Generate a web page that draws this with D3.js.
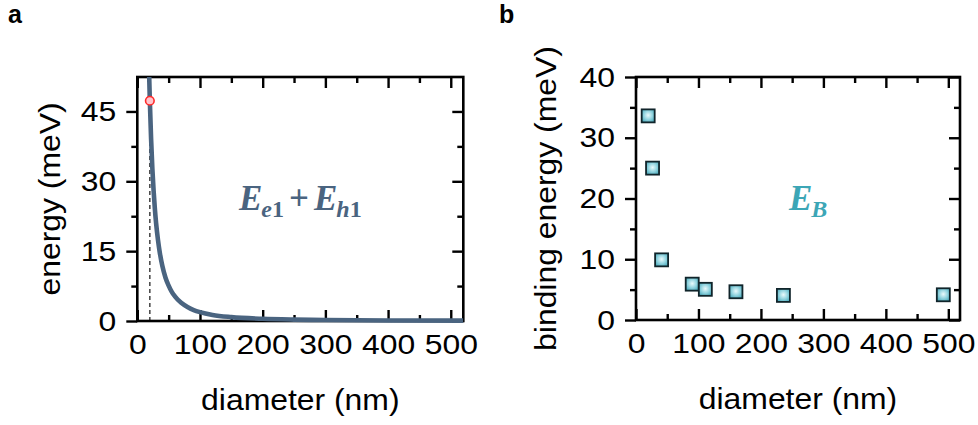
<!DOCTYPE html>
<html>
<head>
<meta charset="utf-8">
<script src="https://cdn.jsdelivr.net/npm/d3@7"></script>
<style>
  html, body { margin: 0; padding: 0; background: #fff; }
  svg { display: block; }
  .tick text { font-family: "Liberation Sans", Arial, sans-serif; font-size: 28.5px; fill: #000; }
</style>
</head>
<body>
<svg id="chart" width="978" height="425"></svg>
<script>
// Panel a: confinement energy E_e1 + E_h1 versus wire diameter
const curveDiameter = [18.9, 20, 22, 24, 26, 28, 30, 33, 36, 40, 45, 50, 55, 60, 70, 80, 90, 100, 120, 150, 200, 250, 300, 400, 520];
const curveEnergy   = [52.9, 47.3, 39.1, 32.8, 28.0, 24.1, 21.0, 17.4, 14.6, 11.8, 9.3, 7.6, 6.25, 5.3, 3.9, 3.0, 2.35, 1.9, 1.3, 0.84, 0.47, 0.30, 0.21, 0.12, 0.07];
const markDiameter = 20;
const markEnergy = 47.3;

// Panel b: exciton binding energy E_B versus wire diameter
const bindDiameter = [19.5, 26.5, 41, 90, 111, 160, 236, 492];
const bindEnergy   = [33.6, 25.0, 9.9, 5.9, 5.05, 4.65, 4.05, 4.15];

// Axis ticks
const xMajor = [0, 100, 200, 300, 400, 500];
const xMinor = [50, 150, 250, 350, 450];
const aYMajor = [0, 15, 30, 45];
const aYMinor = [7.5, 22.5, 37.5];
const bYMajor = [0, 10, 20, 30, 40];
const bYMinor = [5, 15, 25, 35];

const TICK_STRETCH = 1.12;   // wide sans lettering
const TITLE_STRETCH = 1.1;

const svg = d3.select("#chart");
const defs = svg.append("defs");

const grad = defs.append("radialGradient").attr("id", "sqFill")
  .attr("cx", "50%").attr("cy", "45%").attr("r", "65%");
grad.append("stop").attr("offset", "0%").attr("stop-color", "#eafafc");
grad.append("stop").attr("offset", "50%").attr("stop-color", "#94d5e0");
grad.append("stop").attr("offset", "100%").attr("stop-color", "#44a6b8");

const MAJ = 11, MIN = 6;

function frameAxes(g, x, y, W, H, yMajor, yMinor) {
  // left: outward ticks with labels
  const left = g.append("g").call(d3.axisLeft(y).tickValues(yMajor).tickSize(MAJ).tickPadding(10).tickSizeOuter(0));
  left.selectAll(".tick text")
    .attr("x", 0)
    .attr("transform", `translate(${-(MAJ + 10)},0) scale(${TICK_STRETCH},1)`);
  g.append("g").call(d3.axisLeft(y).tickValues(yMinor).tickSize(MIN).tickFormat("").tickSizeOuter(0));
  // right: inward ticks
  g.append("g").attr("transform", `translate(${W},0)`)
    .call(d3.axisLeft(y).tickValues(yMajor).tickSize(MAJ).tickFormat("").tickSizeOuter(0));
  g.append("g").attr("transform", `translate(${W},0)`)
    .call(d3.axisLeft(y).tickValues(yMinor).tickSize(MIN).tickFormat("").tickSizeOuter(0));
  // top: inward ticks
  g.append("g").call(d3.axisBottom(x).tickValues(xMajor).tickSize(MAJ).tickFormat("").tickSizeOuter(0));
  g.append("g").call(d3.axisBottom(x).tickValues(xMinor).tickSize(MIN).tickFormat("").tickSizeOuter(0));
  // bottom: inward ticks, labels below
  g.append("g").attr("transform", `translate(0,${H})`)
    .call(d3.axisTop(x).tickValues(xMajor).tickSize(MAJ).tickFormat("").tickSizeOuter(0));
  g.append("g").attr("transform", `translate(0,${H})`)
    .call(d3.axisTop(x).tickValues(xMinor).tickSize(MIN).tickFormat("").tickSizeOuter(0));
  const bottom = g.append("g").attr("transform", `translate(0,${H})`)
    .call(d3.axisBottom(x).tickValues(xMajor).tickSize(0).tickPadding(13).tickSizeOuter(0));
  bottom.selectAll(".tick text").attr("transform", `scale(${TICK_STRETCH},1)`);

  g.selectAll(".domain").remove();
  g.selectAll(".tick line").attr("stroke", "#000").attr("stroke-width", 2.4);
  g.selectAll(".tick text").attr("font-family", null).attr("font-size", null);

  g.append("rect").attr("x", 0).attr("y", 0).attr("width", W).attr("height", H)
    .attr("fill", "none").attr("stroke", "#000").attr("stroke-width", 2.6);
}

function axisTitles(g, W, H, xTitle, yTitle, yTitleX) {
  g.append("text").attr("transform", `translate(${W / 2},${H + 89}) scale(${TITLE_STRETCH},1)`)
    .attr("text-anchor", "middle")
    .attr("font-family", "Liberation Sans, Arial, sans-serif").attr("font-size", 29)
    .text(xTitle);
  g.append("text").attr("transform", `translate(${yTitleX},${H / 2}) rotate(-90) scale(${TITLE_STRETCH},1)`)
    .attr("text-anchor", "middle")
    .attr("font-family", "Liberation Sans, Arial, sans-serif").attr("font-size", 29)
    .text(yTitle);
}

// ---------- Panel a ----------
{
  const L = 137.3, T = 77, W = 326, H = 244;
  const g = svg.append("g").attr("transform", `translate(${L},${T})`);
  const x = d3.scaleLinear().domain([0, 520]).range([0, W]);
  const y = d3.scaleLinear().domain([0, 52.4]).range([H, 0]);

  defs.append("clipPath").attr("id", "clipA")
    .append("rect").attr("x", 0).attr("y", 0).attr("width", W).attr("height", H + 3);

  // dashed guide at the marked diameter
  g.append("line")
    .attr("x1", x(markDiameter)).attr("x2", x(markDiameter))
    .attr("y1", y(0)).attr("y2", y(markEnergy))
    .attr("stroke", "#333").attr("stroke-width", 1.4).attr("stroke-dasharray", "4,3");

  frameAxes(g, x, y, W, H, aYMajor, aYMinor);

  const pts = curveDiameter.map((d, i) => [d, curveEnergy[i]]);
  g.append("path").datum(pts)
    .attr("clip-path", "url(#clipA)")
    .attr("fill", "none").attr("stroke", "#4a6480").attr("stroke-width", 4.6)
    .attr("d", d3.line().x(d => x(d[0])).y(d => y(d[1])).curve(d3.curveMonotoneX));

  g.append("circle").attr("cx", x(markDiameter)).attr("cy", y(markEnergy)).attr("r", 4.3)
    .attr("fill", "#ffc4cc").attr("stroke", "#ff2a2a").attr("stroke-width", 1.6);

  axisTitles(g, W, H, "diameter (nm)", "energy (meV)", -77);

  // label E_e1 + E_h1
  const t = g.append("text").attr("x", 239 - L).attr("y", 210 - T)
    .attr("fill", "#4a6480").attr("font-family", "Liberation Serif, Times New Roman, serif")
    .attr("font-weight", "bold").attr("font-size", 35);
  t.append("tspan").attr("font-style", "italic").text("E");
  t.append("tspan").attr("font-style", "italic").attr("font-size", 24).attr("dy", 7).attr("dx", -1).text("e");
  t.append("tspan").attr("font-size", 24).text("1");
  t.append("tspan").attr("dy", -7).attr("dx", 5).text("+");
  t.append("tspan").attr("font-style", "italic").attr("dx", 5).text("E");
  t.append("tspan").attr("font-style", "italic").attr("font-size", 24).attr("dy", 7).attr("dx", -1).text("h");
  t.append("tspan").attr("font-size", 24).text("1");

  svg.append("text").attr("x", 8).attr("y", 23)
    .attr("font-family", "Liberation Sans, Arial, sans-serif").attr("font-weight", "bold").attr("font-size", 25)
    .text("a");
}

// ---------- Panel b ----------
{
  const L = 636, T = 77, W = 324, H = 243;
  const g = svg.append("g").attr("transform", `translate(${L},${T})`);
  const x = d3.scaleLinear().domain([0, 518.7]).range([0, W]);
  const y = d3.scaleLinear().domain([0, 40]).range([H, 0]);

  frameAxes(g, x, y, W, H, bYMajor, bYMinor);

  const S = 13;
  g.selectAll("rect.pt").data(bindDiameter.map((d, i) => [d, bindEnergy[i]]))
    .join("rect").attr("class", "pt")
    .attr("x", d => x(d[0]) - S / 2).attr("y", d => y(d[1]) - S / 2)
    .attr("width", S).attr("height", S)
    .attr("fill", "url(#sqFill)").attr("stroke", "#10242a").attr("stroke-width", 1.8);

  axisTitles(g, W, H, "diameter (nm)", "binding energy (meV)", -80);

  const t = g.append("text").attr("x", 789 - L).attr("y", 210 - T)
    .attr("fill", "#3ca6b6").attr("font-family", "Liberation Serif, Times New Roman, serif")
    .attr("font-weight", "bold").attr("font-size", 35);
  t.append("tspan").attr("font-style", "italic").text("E");
  t.append("tspan").attr("font-style", "italic").attr("font-size", 24).attr("dy", 7).attr("dx", -1).text("B");

  svg.append("text").attr("x", 499).attr("y", 23)
    .attr("font-family", "Liberation Sans, Arial, sans-serif").attr("font-weight", "bold").attr("font-size", 25)
    .text("b");
}
</script>
</body>
</html>
